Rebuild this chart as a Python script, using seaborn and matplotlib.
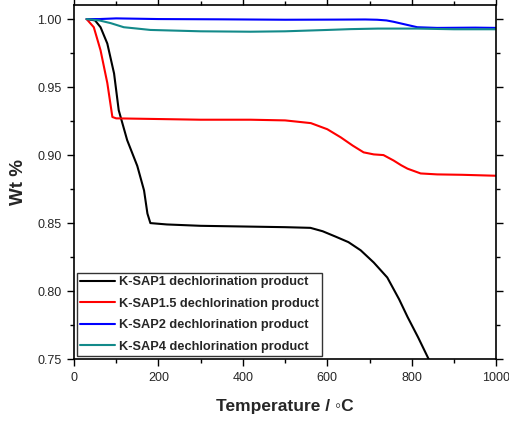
import pandas as pd
import seaborn as sns
import matplotlib.pyplot as plt
from matplotlib.ticker import MultipleLocator, FormatStrFormatter

# TGA curves (temperature in C, weight fraction)
sap1_T = [30, 50, 63, 79, 95, 106, 126, 150, 166, 174, 181, 220, 300, 400, 500, 560, 589, 620, 650, 679, 710, 742, 770, 790, 815, 840, 850]
sap1_W = [1.000, 0.999, 0.994, 0.982, 0.960, 0.933, 0.911, 0.892, 0.874, 0.857, 0.850, 0.849, 0.848, 0.8475, 0.847, 0.8465, 0.844, 0.840, 0.836, 0.830, 0.821, 0.810, 0.794, 0.781, 0.766, 0.750, 0.744]
sap15_T = [30, 47, 63, 79, 91, 100, 200, 300, 418, 500, 561, 600, 632, 660, 686, 710, 733, 757, 775, 790, 821, 860, 920, 1000]
sap15_W = [1.000, 0.994, 0.977, 0.953, 0.928, 0.927, 0.9265, 0.926, 0.926, 0.9255, 0.9235, 0.919, 0.913, 0.907, 0.902, 0.9005, 0.900, 0.896, 0.8925, 0.890, 0.8865, 0.8858, 0.8855, 0.8848]
sap2_T = [30, 60, 100, 200, 350, 500, 620, 690, 718, 740, 757, 785, 813, 860, 950, 1000]
sap2_W = [1.000, 1.000, 1.0005, 1.000, 0.9998, 0.9995, 0.9996, 0.9997, 0.9995, 0.999, 0.998, 0.996, 0.994, 0.9935, 0.9937, 0.9935]
sap4_T = [30, 60, 87, 118, 150, 181, 300, 418, 500, 600, 655, 720, 813, 900, 1000]
sap4_W = [1.000, 0.999, 0.997, 0.994, 0.993, 0.992, 0.991, 0.9907, 0.991, 0.992, 0.9926, 0.993, 0.993, 0.9925, 0.9925]

labels = ['K-SAP1 dechlorination product', 'K-SAP1.5 dechlorination product',
          'K-SAP2 dechlorination product', 'K-SAP4 dechlorination product']
colors = ['#000000', '#ff0000', '#0000ff', '#138a8a']

frames = []
for lab, T, W in zip(labels, [sap1_T, sap15_T, sap2_T, sap4_T], [sap1_W, sap15_W, sap2_W, sap4_W]):
    frames.append(pd.DataFrame({'Temperature': T, 'Wt': W, 'sample': lab}))
data = pd.concat(frames, ignore_index=True)

sns.set_style('ticks')
plt.rcParams['font.family'] = ['Liberation Sans', 'DejaVu Sans']

fig = plt.figure(figsize=(5.1, 4.21), dpi=100)
ax = fig.add_axes([0.145, 0.147, 0.828, 0.841])
sns.lineplot(data=data, x='Temperature', y='Wt', hue='sample', palette=dict(zip(labels, colors)),
             sort=False, estimator=None, linewidth=1.5, ax=ax)

ax.set_xlim(0, 1000)
ax.set_ylim(0.75, 1.0103)
ax.xaxis.set_major_locator(MultipleLocator(200))
ax.xaxis.set_minor_locator(MultipleLocator(100))
ax.yaxis.set_major_locator(MultipleLocator(0.05))
ax.yaxis.set_minor_locator(MultipleLocator(0.025))
ax.yaxis.set_major_formatter(FormatStrFormatter('%.2f'))
ax.tick_params(which='both', top=True, right=True, labelsize=9, width=1, color='black', pad=4)
ax.tick_params(which='major', length=5)
ax.tick_params(which='minor', length=3)
for s in ax.spines.values():
    s.set_linewidth(1.2)
    s.set_color('black')
ax.set_xlabel('Temperature / \u25e6C', fontsize=12.5, fontweight='bold', labelpad=11)
ax.set_ylabel('Wt %', fontsize=13.5, fontweight='bold', labelpad=7)

leg = ax.legend(loc='lower left', bbox_to_anchor=(0.0, 0.0), fontsize=9.2, frameon=True, fancybox=False,
                handlelength=2.7, handletextpad=0.3, borderpad=0.25, labelspacing=0.75, borderaxespad=0.25)
leg.get_frame().set_edgecolor('black')
leg.get_frame().set_linewidth(1)
for t in leg.get_texts():
    t.set_fontweight('bold')

fig.savefig('out.png', dpi=100)
